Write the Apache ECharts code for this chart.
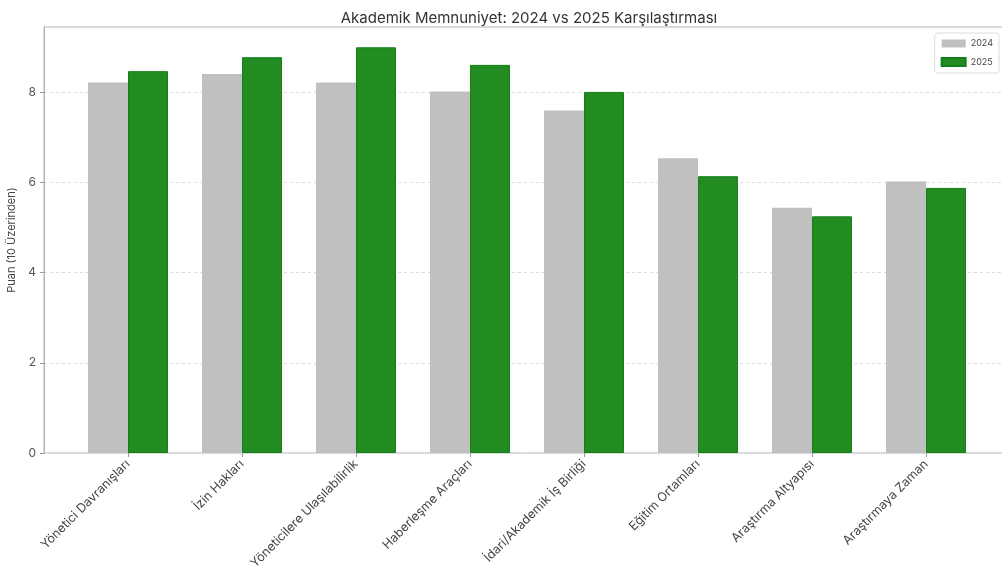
<!DOCTYPE html>
<html><head><meta charset="utf-8">
<script src="https://cdn.jsdelivr.net/npm/echarts@6/dist/echarts.min.js"></script>
<style>html,body{margin:0;padding:0;background:#fff}#c{width:1002px;height:579px}</style>
</head><body><div id="c"></div>
<script>
const categories = ["Yönetici Davranışları","İzin Hakları","Yöneticilere Ulaşılabilirlik","Haberleşme Araçları","İdari/Akademik İş Birliği","Eğitim Ortamları","Araştırma Altyapısı","Araştırmaya Zaman"];
const values2024 = [8.22, 8.41, 8.22, 8.02, 7.60, 6.54, 5.44, 6.02];
const values2025 = [8.47, 8.78, 9.00, 8.61, 8.01, 6.14, 5.25, 5.88];
const yTicks = [0, 2, 4, 6, 8];
const yMax = 9.45;

const font = 'Inter, "Noto Sans", sans-serif';
const chart = echarts.init(document.getElementById('c'));
chart.setOption({
  animation: false,
  textStyle: {fontFamily: font},
  title: {text: 'Akademik Memnuniyet: 2024 vs 2025 Karşılaştırması', left: 524, textAlign: 'center', top: 6,
    textStyle: {fontSize: 15, fontWeight: 'normal', color: '#333', fontFamily: font}},
  legend: {orient: 'vertical', right: 3, top: 33, itemWidth: 24, itemHeight: 8, itemGap: 9, icon: 'rect',
    borderColor: '#dcdcdc', borderWidth: 1, borderRadius: 3, padding: [6, 6, 6, 6],
    textStyle: {fontSize: 9, color: '#444'}, data: ['2024', '2025']},
  grid: [
    {left: 44, right: -8, top: 27, bottom: 126, show: true, borderColor: '#b5b5b5', borderWidth: 1, containLabel: false, outerBoundsMode: 'none'},
    {left: 71, width: 912, top: 27, bottom: 126, containLabel: false, outerBoundsMode: 'none'}
  ],
  xAxis: [
    {gridIndex: 0, type: 'value', min: 0, max: 1, show: false},
    {gridIndex: 1, type: 'category', data: categories,
      axisLine: {show: false},
      axisTick: {show: true, alignWithLabel: true, length: 4, lineStyle: {color: '#999'}},
      axisLabel: {rotate: 45, fontSize: 12.5, color: '#444', margin: 9, interval: 0}}
  ],
  yAxis: [
    {gridIndex: 0, type: 'value', min: 0, max: yMax, interval: 2,
      name: 'Puan (10 Üzerinden)', nameLocation: 'middle', nameGap: 26, nameRotate: 90,
      nameTextStyle: {fontSize: 11, color: '#444'},
      axisLine: {show: true, lineStyle: {color: '#b5b5b5'}},
      axisTick: {show: true, length: 4, lineStyle: {color: '#999'}, customValues: yTicks},
      axisLabel: {fontSize: 12, color: '#555', customValues: yTicks, margin: 8},
      splitLine: {show: true, lineStyle: {color: '#dcdcdc', type: [3, 3], width: 1}}},
    {gridIndex: 1, type: 'value', min: 0, max: yMax, show: false, splitLine: {show: false}}
  ],
  series: [
    {name: '2024', type: 'bar', xAxisIndex: 1, yAxisIndex: 1, data: values2024, barWidth: 40, barGap: '0%',
      itemStyle: {color: '#c0c0c0'}},
    {name: '2025', type: 'bar', xAxisIndex: 1, yAxisIndex: 1, data: values2025, barWidth: 40, barGap: '0%',
      itemStyle: {color: '#228b22', borderColor: '#13801a', borderWidth: 1}}
  ]
});
</script></body></html>
